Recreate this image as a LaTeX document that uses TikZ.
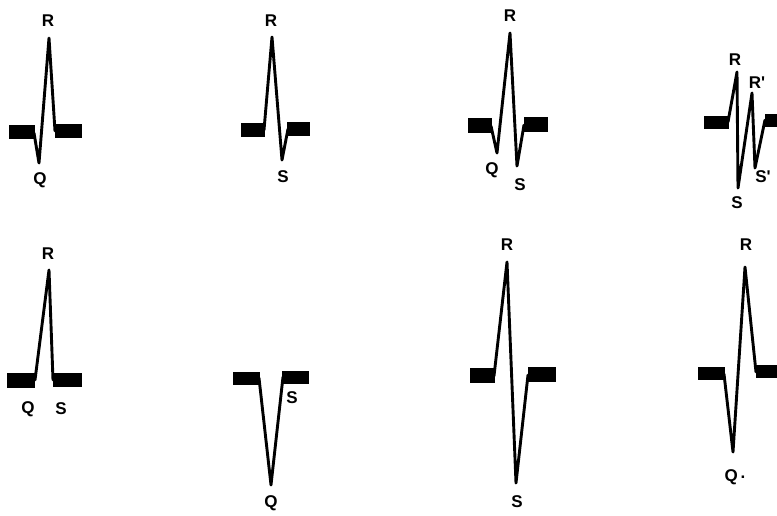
\documentclass[tikz,border=0pt]{standalone}
\usepackage{fontspec}
\setmainfont{Liberation Sans}
\usepackage{tikz}

\begin{document}
\begin{tikzpicture}[
      x=1pt, y=-1pt,
      base/.style={fill=black},
      trace/.style={draw=black, line width=2.9pt, line join=round, line cap=round},
      lbl/.style={font=\fontsize{17}{17}\selectfont\bfseries, inner sep=0pt},
    ]
    \useasboundingbox (0,0) rectangle (777,515);

    % ---------- top row ----------
    % Q R
    \fill[base] (9,125) rectangle (35,139);
    \fill[base] (55,124) rectangle (82,138);
    \draw[trace] (34,133) -- (39,163) -- (49,38) -- (55,131);
    \node[lbl] (r1) at (48,21) {R};
    \node[lbl] (q1) at (40,180) {Q};

    % R S
    \fill[base] (241,123) rectangle (265,137);
    \fill[base] (287,122) rectangle (310,136);
    \draw[trace] (264,130) -- (272,37) -- (282,160) -- (288,129);
    \node[lbl] (r2) at (271,21) {R};
    \node[lbl] (s2) at (283,177) {S};

    % Q R S
    \fill[base] (468,118) rectangle (492,133);
    \fill[base] (524,117) rectangle (548,132);
    \draw[trace] (491,126) -- (497,153) -- (510,33) -- (517,166) -- (524,125);
    \node[lbl] (r3) at (510,16) {R};
    \node[lbl] (q3) at (492,170) {Q};
    \node[lbl] (s3) at (520,185) {S};

    % R S R' S'
    \fill[base] (704,116) rectangle (729,129);
    \fill[base] (765,114) rectangle (777,127);
    \draw[trace] (728,122) -- (737,72) -- (738,188) -- (752,93) -- (755,168) -- (765,120);
    \node[lbl] (r4) at (735,60) {R};
    \node[lbl] (rr4) at (757,83) {R\textquotesingle};
    \node[lbl] (s4) at (737,203) {S};
    \node[lbl] (ss4) at (763,177) {S\textquotesingle};

    % ---------- bottom row ----------
    % R only
    \fill[base] (7,373) rectangle (35,388);
    \fill[base] (53,373) rectangle (82,387);
    \draw[trace] (35,380) -- (49,270) -- (53,380);
    \node[lbl] (r5) at (48,254) {R};
    \node[lbl] (q5) at (28,409) {Q};
    \node[lbl] (s5) at (61,409) {S};

    % QS
    \fill[base] (233,372) rectangle (260,385);
    \fill[base] (282,371) rectangle (309,384);
    \draw[trace] (259,378) -- (271,485) -- (283,377);
    \node[lbl] (s6) at (292,398) {S};
    \node[lbl] (q6) at (271,503) {Q};

    % R S
    \fill[base] (470,368) rectangle (495,383);
    \fill[base] (528,367) rectangle (556,382);
    \draw[trace] (494,376) -- (507,262) -- (516,483) -- (528,375);
    \node[lbl] (r7) at (507,245) {R};
    \node[lbl] (s7) at (517,502) {S};

    % Q R
    \fill[base] (698,367) rectangle (725,380);
    \fill[base] (756,365) rectangle (777,378);
    \draw[trace] (724,374) -- (733,452) -- (745,267) -- (756,372);
    \node[lbl] (r8) at (746,245) {R};
    \node[lbl] (q8) at (735,477) {Q\,\raisebox{3pt}{.}};
  \end{tikzpicture}
\end{document}
